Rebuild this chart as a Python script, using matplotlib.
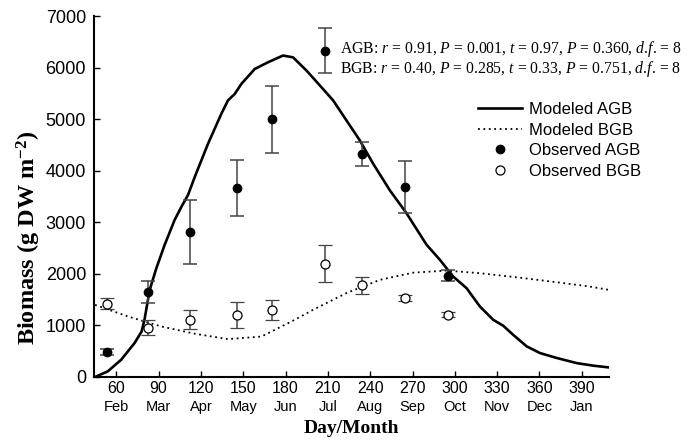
import matplotlib
matplotlib.use("Agg")
import matplotlib.pyplot as plt
from matplotlib.lines import Line2D
from matplotlib.transforms import blended_transform_factory

plt.rcParams['mathtext.fontset'] = 'custom'
plt.rcParams['mathtext.rm'] = 'Liberation Serif'
plt.rcParams['mathtext.it'] = 'Liberation Serif:italic'
plt.rcParams['mathtext.bf'] = 'Liberation Serif:bold'

# Observed data
obs_day = [53.5, 82.5, 112.5, 145.5, 170.5, 208, 234.5, 264.5, 295]
obs_agb = [490, 1650, 2815, 3665, 5000, 6335, 4335, 3680, 1965]
obs_agb_err = [55, 215, 615, 540, 650, 430, 230, 505, 110]
obs_bgb = [1425, 960, 1115, 1205, 1300, 2200, 1785, 1530, 1210]
obs_bgb_err = [110, 145, 180, 255, 200, 360, 165, 60, 50]

# Modeled curves
mod_agb_day = [45, 54, 63.5, 73, 78, 80, 83.7, 88.4, 94.3, 101.4, 106.2, 110.9,
               115.6, 125, 134.5, 139.2, 144, 148.7, 158.2, 167.6, 178.2, 185.3,
               194.8, 204.3, 213.7, 223.2, 232.6, 242.1, 253.9, 265.7, 280,
               289.4, 298.8, 308.3, 317.7, 327.2, 334.3, 341.3, 350.9, 360.3,
               372.1, 386.3, 398.1, 409.4]
mod_agb = [0, 110, 335, 660, 885, 1110, 1690, 2110, 2565, 3050, 3305, 3535,
           3880, 4525, 5110, 5370, 5495, 5690, 5980, 6110, 6240, 6205,
           5950, 5660, 5370, 4980, 4595, 4140, 3625, 3180, 2565,
           2275, 1950, 1725, 1370, 1110, 995, 820, 595, 465,
           370, 270, 220, 185]
mod_bgb_day = [45, 68.3, 92, 115.6, 139.2, 162.9, 186.5, 199.5, 223.2, 246.8,
               270.4, 294.1, 317.7, 339, 348.4, 372.1, 395.8, 409.4]
mod_bgb = [1400, 1175, 980, 840, 735, 785, 1110, 1305, 1630, 1885,
           2025, 2065, 2015, 1950, 1920, 1840, 1755, 1690]

xticks = [60, 90, 120, 150, 180, 210, 240, 270, 300, 330, 360, 390]
months = ['Feb', 'Mar', 'Apr', 'May', 'Jun', 'Jul', 'Aug', 'Sep', 'Oct', 'Nov', 'Dec', 'Jan']
yticks = [0, 1000, 2000, 3000, 4000, 5000, 6000, 7000]

sans = 'Liberation Sans'
serif = 'Liberation Serif'

fig = plt.figure(figsize=(6.94, 4.43), dpi=100)
ax = fig.add_axes([0.136, 0.149, 0.742, 0.814])

ax.plot(mod_agb_day, mod_agb, color='black', lw=1.9, solid_joinstyle='round')
ax.plot(mod_bgb_day, mod_bgb, color='black', lw=1.3, linestyle=(0, (1, 2)))

ecol = '#444444'
ax.errorbar(obs_day, obs_agb, yerr=obs_agb_err, fmt='o', color='black',
            ms=6, mfc='black', mec='black', ecolor=ecol, elinewidth=1.1,
            capsize=5, capthick=1.1, zorder=3)
ax.errorbar(obs_day, obs_bgb, yerr=obs_bgb_err, fmt='o', color='black',
            ms=6.5, mfc='white', mec='black', mew=0.9, ecolor=ecol, elinewidth=1.1,
            capsize=5, capthick=1.1, zorder=3)

ax.set_xlim(44.5, 409.5)
ax.set_ylim(0, 7000)
ax.spines['top'].set_visible(False)
ax.spines['right'].set_visible(False)
ax.spines['left'].set_linewidth(1.5)
ax.spines['bottom'].set_linewidth(1.5)

ax.set_yticks(yticks)
ax.set_yticklabels([str(v) for v in yticks], fontfamily=sans, fontsize=13)
ax.set_xticks(xticks)
ax.set_xticklabels([str(v) for v in xticks], fontfamily=sans, fontsize=11.5)
ax.tick_params(axis='both', direction='in', length=4, width=1.0)
ax.tick_params(axis='x', pad=3)
ax.tick_params(axis='y', pad=6)

trans = blended_transform_factory(ax.transData, ax.transAxes)
for xv, m in zip(xticks, months):
    ax.text(xv, -0.083, m, transform=trans, ha='center', va='center',
            fontfamily=sans, fontsize=10.5)

ax.set_xlabel('Day/Month', fontfamily=serif, fontweight='bold', fontsize=14)
ax.xaxis.label.set_va('center')
ax.xaxis.set_label_coords(0.5, -0.142)
ax.set_ylabel(r'Biomass (g DW m$^{\mathbf{-2}}$)', fontfamily=serif,
              fontweight='bold', fontsize=17.5)
ax.yaxis.label.set_va('center')
ax.yaxis.set_label_coords(-0.128, 0.385)

ann = (r'AGB: $r$ = 0.91, $P$ = 0.001, $t$ = 0.97, $P$ = 0.360, $d$.$f$. = 8' + '\n' +
       r'BGB: $r$ = 0.40, $P$ = 0.285, $t$ = 0.33, $P$ = 0.751, $d$.$f$. = 8')
fig.text(340 / 694, 1 - 59 / 443, ann, fontfamily=serif, fontsize=11.3,
         ha='left', va='center', linespacing=1.05)

handles = [
    Line2D([], [], color='black', lw=1.9),
    Line2D([], [], color='black', lw=1.3, linestyle=(0, (1, 2))),
    Line2D([], [], color='black', marker='o', ms=6, mfc='black', lw=0),
    Line2D([], [], color='black', marker='o', ms=6.5, mfc='white', mew=0.9, lw=0),
]
labels = ['Modeled AGB', 'Modeled BGB', 'Observed AGB', 'Observed BGB']
leg = fig.legend(handles, labels, loc='upper left',
                 bbox_to_anchor=(470 / 694, 1 - 94 / 443), frameon=False,
                 prop={'family': sans, 'size': 12}, handlelength=2.6,
                 handletextpad=0.45, labelspacing=0.33, borderpad=0)

fig.savefig('out.png', dpi=100)
